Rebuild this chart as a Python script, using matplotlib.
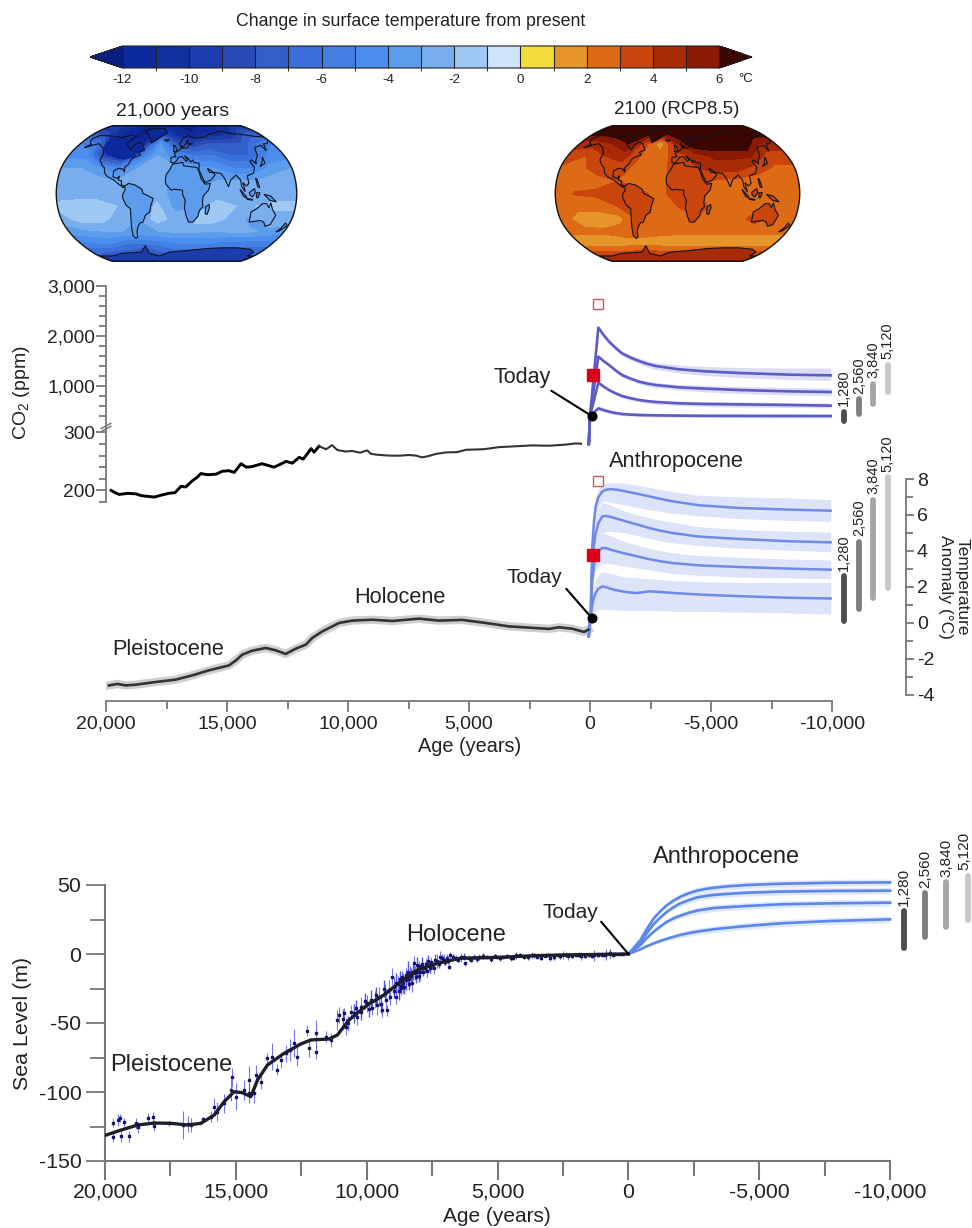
import numpy as np
import matplotlib
matplotlib.use('Agg')
import matplotlib.pyplot as plt
from matplotlib.cm import ScalarMappable
from matplotlib.colors import BoundaryNorm, ListedColormap
from matplotlib.patches import Polygon

plt.rcParams['font.family'] = ['Liberation Sans', 'DejaVu Sans']
plt.rcParams['axes.unicode_minus'] = False
plt.rcParams['mathtext.default'] = 'regular'

W, H = 972, 1228
TXT = '#222222'
AXC = '#777777'

# colour scale
CB_LEVELS = list(range(-12, 7))
CB_COLORS = ['#0c2a9e', '#12309f', '#1c3cae', '#2a4ab8', '#3360c8', '#3a6ed8', '#4480e4', '#4c8ef0', '#5c9cec',
             '#78aeee', '#a0c8f4', '#d0e4fa', '#f4dc3c', '#e6952a', '#dd6a15', '#c9450c', '#a82a06', '#8a1a04']
CB_UNDER = '#0a1f80'
CB_OVER = '#3b0500'
CB_TICKS = [-12, -10, -8, -6, -4, -2, 0, 2, 4, 6]

# map tables, lon -180..180 every 30, lat 90..-90 every 15
MAP_LON = [-180, -150, -120, -90, -60, -30, 0, 30, 60, 90, 120, 150, 180]
MAP_LAT = [90, 75, 60, 45, 30, 15, 0, -15, -30, -45, -60, -75, -90]
LGM_FIELD = [
    [-10, -10, -11, -12, -12, -12, -12, -12, -12, -11, -11, -10, -10],
    [-8, -9, -11, -12, -12, -9, -11, -12, -11, -11, -10, -8, -8],
    [-5, -6, -10, -12, -11, -4, -8, -9, -8, -8, -8, -6, -5],
    [-4.5, -4.5, -9, -11, -6, -3, -5, -6, -6, -7, -7, -5, -4.5],
    [-3, -3, -4, -5, -3, -2.5, -3, -3.5, -4, -5, -5, -3.5, -3],
    [-2.5, -2.5, -2.5, -3, -2.5, -2.5, -3.5, -3.5, -3, -3, -3, -2.5, -2.5],
    [-2.5, -2.5, -2.5, -2.5, -2.5, -2.5, -3.5, -3, -2.5, -2.5, -2.5, -2.5, -2.5],
    [-1.7, -1.5, -1.5, -2, -3.5, -1.7, -3.5, -3, -1.5, -2, -2, -1.7, -1.7],
    [-2.5, -1.5, -1.5, -2.5, -3, -1.5, -2.5, -1.5, -1.5, -2.5, -3.5, -2.5, -2.5],
    [-3.5, -3.2, -3, -3, -3.2, -3, -2.8, -2.8, -3, -2.8, -2.8, -3.2, -3.5],
    [-5.5, -5, -5, -6, -6, -5.5, -5, -5, -5, -5.5, -5.5, -5.5, -5.5],
    [-7, -7.5, -8, -8, -9, -7.5, -7, -7, -7, -7, -7, -7, -7],
    [-9, -9, -9, -9, -9, -9, -9, -9, -9, -9, -9, -9, -9],
]
RCP_FIELD = [
    [7, 7, 7, 7, 7, 7, 7, 7, 7, 7, 7, 7, 7],
    [6.5, 6.5, 7, 7, 6.5, 6, 7, 7, 7, 7, 7, 7, 6.5],
    [4.5, 4.5, 5, 6, 3.5, 1.2, 5, 7, 7, 7, 7, 5, 4.5],
    [3.5, 3, 4, 4.5, 3, 2.5, 3.5, 4.5, 5.2, 5.2, 5.2, 3.5, 3.5],
    [2.8, 2.7, 3.5, 3.5, 2.6, 2.5, 3.5, 4, 4.5, 4.5, 3.5, 2.8, 2.8],
    [2.5, 2.5, 2.6, 3, 2.5, 2.5, 3.5, 3.5, 2.8, 2.6, 2.5, 2.5, 2.5],
    [2.5, 3.1, 3.2, 3.5, 3.5, 2.6, 3.5, 3, 2.5, 2.5, 2.5, 2.5, 2.5],
    [2.5, 2.3, 2.5, 3, 3.6, 2.5, 3, 3.5, 2.5, 2.5, 2.5, 2.5, 2.5],
    [2.5, 1.6, 1.3, 1.6, 3.2, 2.4, 2.5, 3, 2.4, 2.5, 3.5, 2.6, 2.5],
    [2.2, 2.2, 2.2, 2.5, 2.4, 2.3, 2.2, 2.2, 2.2, 2.2, 2.3, 2.2, 2.2],
    [1.5, 1.4, 1.4, 1.5, 1.6, 1.5, 1.5, 1.5, 1.5, 1.5, 1.3, 1.5, 1.5],
    [3.5, 3.4, 3.5, 3.6, 3.7, 3.5, 3.5, 3.5, 3.5, 3.5, 3.5, 3.5, 3.5],
    [4, 4, 4, 4, 4, 4, 4, 4, 4, 4, 4, 4, 4],
]

# rough coastlines as lon, lat
NORTH_AMERICA = [(-168, 66), (-162, 71), (-150, 71), (-128, 70), (-110, 68), (-95, 72), (-85, 69), (-94, 60), (-85, 55),
                 (-80, 52), (-78, 58), (-72, 62), (-64, 60), (-56, 52), (-65, 49), (-60, 46), (-70, 43), (-74, 40),
                 (-76, 35), (-81, 31), (-80, 25), (-83, 29), (-90, 30), (-97, 27), (-97, 20), (-90, 18), (-87, 21),
                 (-88, 16), (-83, 15), (-83, 10), (-78, 9), (-80, 7), (-85, 10), (-95, 16), (-105, 20), (-110, 24),
                 (-113, 31), (-117, 33), (-124, 40), (-124, 48), (-132, 55), (-145, 60), (-155, 58), (-165, 55),
                 (-158, 59), (-165, 62)]
SOUTH_AMERICA = [(-78, 9), (-72, 12), (-62, 10), (-52, 5), (-50, 0), (-44, -2), (-35, -6), (-39, -15), (-41, -22),
                 (-48, -26), (-53, -34), (-58, -35), (-62, -39), (-66, -45), (-68, -52), (-72, -54), (-75, -50),
                 (-73, -40), (-71, -30), (-70, -18), (-76, -14), (-81, -5), (-80, 0), (-77, 4)]
AFRICA = [(-6, 35), (10, 37), (11, 33), (20, 32), (32, 31), (35, 25), (37, 18), (43, 11), (51, 12), (48, 4), (40, -3),
          (39, -10), (40, -16), (35, -20), (33, -27), (26, -34), (19, -34), (15, -27), (12, -17), (13, -8), (9, -1),
          (9, 4), (-4, 5), (-8, 4), (-16, 11), (-17, 15), (-16, 22), (-10, 29)]
EURASIA = [(-9, 37), (-9, 43), (-1, 44), (-4, 48), (3, 51), (8, 54), (8, 57), (11, 54), (20, 55), (24, 59), (30, 60),
           (22, 60), (22, 65), (18, 60), (12, 56), (5, 59), (14, 68), (25, 71), (40, 67), (45, 68), (60, 69), (70, 73),
           (90, 76), (105, 78), (115, 74), (140, 73), (160, 70), (180, 69), (180, 65), (170, 60), (163, 60), (156, 51),
           (155, 58), (140, 55), (135, 45), (128, 39), (127, 35), (122, 40), (118, 38), (122, 31), (118, 24), (108, 21),
           (109, 12), (105, 9), (100, 13), (103, 2), (98, 8), (97, 16), (91, 22), (82, 16), (78, 8), (73, 18), (68, 24),
           (57, 25), (52, 28), (48, 30), (51, 25), (56, 25), (59, 22), (52, 16), (43, 13), (39, 20), (35, 28), (36, 36),
           (28, 37), (26, 40), (23, 37), (20, 41), (13, 45), (18, 40), (16, 38), (9, 44), (3, 43), (0, 39), (-5, 36)]
AUSTRALIA = [(114, -22), (122, -18), (130, -12), (136, -12), (140, -17), (142, -11), (146, -19), (153, -26), (150, -37),
             (143, -39), (138, -34), (131, -32), (124, -33), (115, -34)]
GREENLAND = [(-70, 78), (-55, 82), (-30, 83), (-20, 75), (-40, 65), (-48, 61), (-55, 69)]
ANTARCTICA = [(-180, -78), (-150, -78), (-120, -74), (-100, -73), (-75, -72), (-60, -63), (-60, -74), (-40, -78),
              (-15, -72), (20, -70), (60, -67), (90, -66), (120, -66), (150, -68), (165, -72), (165, -78), (180, -78),
              (180, -90), (-180, -90)]
ISLANDS = [
    [(44, -16), (49, -13), (50, -17), (47, -25), (44, -24)],
    [(-5, 50), (1, 51), (-2, 57), (-6, 58), (-4, 54)],
    [(131, 32), (136, 34), (141, 36), (142, 43), (140, 41), (136, 36)],
    [(95, 5), (104, -3), (106, -6), (100, -3)],
    [(106, -6), (114, -7), (114, -8), (106, -7)],
    [(109, 1), (117, 6), (118, 1), (114, -4), (110, -2)],
    [(120, 1), (125, 1), (122, -5), (120, -5)],
    [(131, -1), (141, -3), (150, -10), (140, -8)],
    [(120, 18), (122, 17), (125, 7), (122, 8)],
    [(173, -35), (178, -38), (172, -44), (167, -46), (171, -41)],
    [(-24, 65), (-14, 65), (-18, 63)],
]
# land shade per continent: N America, S America, Africa, Eurasia, Australia, Greenland, Antarctica, islands
LGM_LAND = [None, -3.5, -3.5, None, -2.5, -11.5, -9.5, -3.5]
RCP_LAND = [None, 3.6, 3.6, None, 3.6, 6.5, 4, 3.5]
# ice sheet over north america at the glacial maximum
LGM_ICE = [(-135, 68), (-110, 68), (-95, 70), (-85, 69), (-94, 60), (-85, 55), (-80, 52), (-78, 58), (-72, 62),
           (-64, 60), (-56, 52), (-65, 49), (-70, 43), (-85, 40), (-100, 42), (-122, 48), (-132, 56)]
LGM_ICE_SHADE = -11.5

# robinson tables
ROB_LAT = [0, 5, 10, 15, 20, 25, 30, 35, 40, 45, 50, 55, 60, 65, 70, 75, 80, 85, 90]
ROB_LEN = [1, .9986, .9954, .99, .9822, .973, .96, .9427, .9216, .8962, .8679, .835, .7986, .7597, .7186, .6732, .6213,
           .5722, .5322]
ROB_DFE = [0, .062, .124, .186, .248, .31, .372, .434, .4958, .5571, .6176, .6769, .7346, .7903, .8435, .8936, .9394,
           .9761, 1]

# CO2 record
CO2_AGE = [19790, 19620, 19460, 19100, 18760, 18550, 18350, 18000, 17700, 17400, 17150, 16900, 16700, 16450, 16250,
           16080, 15800, 15450, 15200, 14920, 14700, 14420, 14200, 13970, 13550, 13300, 13060, 12800, 12560, 12300,
           12020, 11850, 11700, 11530, 11400, 11200, 10900, 10660, 10450, 10370, 10100, 9830, 9500, 9210, 9050, 8800,
           8300, 7890, 7500, 7190, 6950, 6730, 6350, 5950, 5500, 5120, 4400, 3760, 3100, 2400, 1700, 990, 600, 370]
CO2_PPM = [200, 196, 193, 195, 194, 191, 190, 188.5, 192, 195, 196, 207, 206, 216, 222, 229, 227, 228, 233, 234, 231,
           246, 240, 241, 246, 243, 240, 245, 250, 247, 257, 254, 262, 272, 266, 276, 271, 278, 270, 269, 267, 268,
           265, 269, 263, 261.5, 260, 259.8, 261, 260, 257, 258.6, 263, 265.5, 266, 270, 271, 274.6, 276, 277.6,
           277, 279, 281, 280.5]

# CO2 projections
CO2_PROJ_YEARS = [50, 0, -345, -560, -785, -1050, -1320, -1660, -2025, -2350, -2715, -3680, -4780, -6160, -8220, -9950]
CO2_5120 = [280, 400, 2167, 2020, 1887, 1765, 1653, 1570, 1500, 1445, 1400, 1333, 1293, 1260, 1227, 1213]
CO2_3840 = [280, 400, 1587, 1500, 1420, 1315, 1220, 1150, 1087, 1050, 1020, 973, 947, 920, 893, 880]
CO2_2560 = [280, 400, 1067, 990, 920, 855, 800, 757, 720, 698, 680, 653, 640, 633, 620, 607]
CO2_1280 = [280, 400, 553, 518, 487, 460, 440, 428, 420, 416, 413, 407, 403, 402, 400, 400]
CO2_5120_HI = [280, 400, 2190, 2055, 1930, 1810, 1700, 1625, 1560, 1510, 1470, 1420, 1390, 1370, 1360, 1360]
CO2_5120_LO = [280, 400, 2140, 1990, 1850, 1725, 1610, 1520, 1440, 1380, 1330, 1260, 1210, 1170, 1130, 1110]
CO2_3840_HI = [280, 400, 1610, 1530, 1450, 1350, 1260, 1190, 1130, 1095, 1070, 1030, 1010, 990, 970, 960]
CO2_3840_LO = [280, 400, 1560, 1475, 1390, 1280, 1180, 1105, 1040, 1000, 970, 920, 880, 850, 820, 810]
CO2_2560_HI = [280, 400, 1090, 1020, 950, 890, 840, 798, 760, 738, 720, 700, 690, 680, 670, 660]
CO2_2560_LO = [280, 400, 1040, 965, 890, 820, 760, 718, 680, 658, 640, 610, 590, 580, 570, 560]
CO2_1280_HI = [280, 400, 600, 565, 530, 503, 480, 468, 460, 455, 450, 450, 445, 445, 445, 440]
CO2_1280_LO = [280, 400, 510, 480, 450, 428, 410, 398, 390, 385, 380, 375, 370, 365, 360, 360]

# temperature record
TEMP_AGE = [19876, 19530, 19185, 18773, 17946, 17120, 16430, 15744, 14917, 14640, 14368, 13954, 13400, 12988, 12574,
            12161, 11748, 11475, 11062, 10785, 10372, 9822, 8996, 8170, 7066, 6240, 5277, 4310, 3347, 2521, 1694, 1281,
            731, 248, 70]
TEMP_VAL = [-3.47, -3.39, -3.47, -3.43, -3.28, -3.15, -2.91, -2.63, -2.36, -2.09, -1.76, -1.54, -1.39, -1.52, -1.72,
            -1.43, -1.21, -0.83, -0.47, -0.28, 0.0, 0.13, 0.18, 0.11, 0.24, 0.13, 0.17, 0, -0.19, -0.26, -0.33, -0.24,
            -0.32, -0.5, -0.37]

# temperature projections
TEMP_PROJ_YEARS = [50, -27, -96, -160, -234, -350, -510, -680, -853, -1150, -1474, -1950, -2438, -2900, -3402, -4504,
                   -6157, -8223, -9945]
TEMP_5120 = [-0.74, .55, 4.26, 5.6, 6.48, 7.0, 7.31, 7.41, 7.44, 7.4, 7.31, 7.18, 7.04, 6.9, 6.76, 6.54, 6.39, 6.3, 6.24]
TEMP_3840 = [-0.74, .5, 3.4, 4.3, 4.98, 5.55, 5.92, 5.95, 5.89, 5.78, 5.65, 5.47, 5.28, 5.13, 5.0, 4.8, 4.67, 4.54, 4.48]
TEMP_2560 = [-0.74, .45, 2.4, 3.1, 3.7, 4.0, 4.17, 4.15, 4.07, 3.96, 3.85, 3.7, 3.55, 3.43, 3.33, 3.2, 3.11, 3.02, 2.96]
TEMP_1280 = [-0.74, .35, 1.02, 1.4, 1.66, 1.9, 2.03, 1.98, 1.9, 1.8, 1.72, 1.66, 1.76, 1.72, 1.67, 1.58, 1.49, 1.4, 1.36]
TEMP_5120_HI = [-.7, .9, 4.8, 6.2, 7.0, 7.45, 7.7, 7.78, 7.8, 7.79, 7.75, 7.65, 7.55, 7.42, 7.3, 7.1, 7, 6.95, 6.85]
TEMP_5120_LO = [-.8, .3, 3.6, 5.0, 5.9, 6.5, 6.75, 6.75, 6.7, 6.62, 6.55, 6.42, 6.3, 6.2, 6.1, 5.95, 5.8, 5.7, 5.65]
TEMP_3840_HI = [-.7, .8, 3.9, 5.1, 5.9, 6.4, 6.7, 6.65, 6.55, 6.38, 6.2, 6.02, 5.85, 5.72, 5.6, 5.35, 5.2, 5.1, 5.05]
TEMP_3840_LO = [-.8, .3, 2.9, 3.7, 4.3, 4.75, 5, 5.07, 5.1, 5.05, 5, 4.85, 4.7, 4.57, 4.45, 4.3, 4.15, 4.05, 3.95]
TEMP_2560_HI = [-.7, .7, 2.9, 3.8, 4.4, 4.8, 5, 4.93, 4.85, 4.68, 4.5, 4.32, 4.15, 4.02, 3.9, 3.75, 3.65, 3.55, 3.5]
TEMP_2560_LO = [-.8, .2, 1.9, 2.5, 2.9, 3.15, 3.3, 3.3, 3.3, 3.22, 3.15, 3.05, 2.95, 2.85, 2.75, 2.65, 2.55, 2.5, 2.45]
TEMP_1280_HI = [-.7, .55, 1.5, 2, 2.4, 2.7, 2.85, 2.8, 2.75, 2.65, 2.55, 2.5, 2.45, 2.4, 2.35, 2.3, 2.25, 2.25, 2.25]
TEMP_1280_LO = [-.8, .1, .5, .62, .7, .73, .75, .75, .75, .72, .7, .7, .7, .68, .65, .65, .6, .55, .5]

# range bars
RANGE_LABELS = ['1,280', '2,560', '3,840', '5,120']
RANGE_COLORS = ['#4d4d4d', '#808080', '#a6a6a6', '#c8c8c8']
RANGE_YEARS = [-10500, -11115, -11700, -12300]
CO2_RANGE_HI = [486, 734, 1040, 1420]
CO2_RANGE_LO = [306, 434, 634, 886]
TEMP_RANGE_HI = [2.6, 4.5, 6.85, 8.1]
TEMP_RANGE_LO = [0.1, 0.75, 1.4, 1.95]
SEA_RANGE_YEARS = [-10534, -11336, -12149, -12966]
SEA_RANGE_HI = [31, 44, 52, 56.5]
SEA_RANGE_LO = [4.3, 12.5, 19.3, 25]

# sea level
SEA_AGE = [19962, 19389, 18752, 18118, 17481, 16845, 16336, 15828, 15447, 15064, 14744, 14427, 14172, 13790, 13157,
           12519, 12137, 11438, 11119, 10676, 9973, 9339, 8702, 8065, 7302, 6412, 4885, 3600, 2500, 0]
SEA_VAL = [-131.2, -127.6, -123.9, -122.5, -122.7, -123.9, -122.7, -116.7, -107, -99.8, -100.5, -103.4, -91.3, -80.4,
           -72, -65.2, -62.3, -61.6, -58.7, -47.8, -36.9, -29.7, -20, -11.6, -6.7, -3.1, -2.4, -1.2, -0.7, 0]
SEA_OBS_AGE = [19709, 19709, 19518, 19416, 19391, 19264, 19073, 18818, 18755, 18373, 18182, 18144, 17546, 17038, 16847,
               16720, 16274, 15956, 15829, 15702, 15448, 15193, 15130, 15002, 14684, 14494, 14494, 14303, 14239, 14048,
               13819, 13603, 13412, 13285, 13094, 12929, 12776, 12649, 12268, 12204, 11949, 11949, 11568, 11377, 11123,
               11059, 10868, 10805, 10614, 10360, 10232, 9978, 9787, 9533, 9406, 9215, 9151, 9024, 8897, 8706, 8515,
               8261, 8197, 8070, 7879, 7624, 7434, 7180, 6861, 6798, 6226, 5907, 5399, 5017,
               4800, 4500, 4300, 4000, 3700, 3500, 3200, 3000, 2700, 2500, 2300, 2000, 1800, 1500, 1300, 1000, 850, 600,
               400, 200, 9700, 9600, 9300, 9250, 9100, 8950, 8800, 8650, 8600, 8400, 8350, 8150, 8000, 7950, 7750, 7700,
               7550, 7300, 7050, 6950, 6600, 6400, 6100, 5700]
SEA_OBS_VAL = [-122.2, -132.3, -120.3, -119.1, -131.9, -121.5, -131.9, -122.7, -125.6, -119.1, -118.3, -124.6, -122.7,
               -123.9, -123.2, -123.9, -119.8, -117.8, -110.6, -114.2, -108.2, -98.5, -89.4, -103.4, -98.5, -100.9,
               -91.3, -100.9, -87.7, -92.5, -75.6, -74.4, -84, -76.8, -72, -69.5, -64.7, -74.4, -55.5, -68.3, -57.5,
               -70.8, -59.9, -62.3, -47.8, -44.2, -43, -52.6, -41.8, -45.4, -38.2, -35.7, -39.4, -30.9, -40.6, -40.6,
               -26, -16.4, -30.9, -24.9, -15.2, -21.2, -6.8, -12.8, -9.2, -8, -10.4, -1.9, -9.2, -0.7, -6.8, -1.9,
               -2.4, -2.4,
               -1.9, -3, -1, -2.2, -0.8, -2, -1.2, -2.6, -1, -0.5, -1.5, -0.6, -1.4, -0.5, -1, -0.4, -0.2, -0.4, -0.2,
               0.1, -33, -37, -28, -33, -31, -24, -22, -17, -21, -18, -14, -14, -9, -13, -7, -12, -6, -5, -4, -3, -3,
               -2.5, -3, -2]
SEA_OBS_ERR = [3, 4, 4, 3, 4, 3, 4, 4, 4, 4, 4, 4, 2, 10, 6, 5, 2, 4, 6, 7, 7, 8, 7, 10, 7, 7, 10, 7, 7, 5, 4, 10, 4, 6,
               6, 8, 10, 7, 4, 6, 10, 5, 4, 5, 7, 6, 4, 6, 5, 6, 7, 6, 5, 7, 5, 4, 7, 6, 5, 5, 5, 6, 5, 4, 4, 4, 4, 4, 2,
               2, 2, 2, 1.5, 1.2,
               1.5, 2, 2.5, 1.2, 2, 1.5, 1, 2.5, 1.5, 3, 2.5, 1.5, 3, 1.5, 4, 1.5, 4, 1.5, 1, 1,
               6, 7, 6, 8, 6, 7, 6, 5, 7, 6, 5, 5, 4, 6, 4, 5, 4, 5, 4, 3, 2, 3, 2, 2]
# the dense part of the cloud, deglaciation and holocene
SEA_DENSE_AGE = [8950, 8880, 8780, 8720, 8680, 8560, 8480, 8420, 8380, 8300, 8230, 8120, 8060, 7990, 7900, 7830, 7780,
                 7660, 7590, 7490, 7380, 7250, 7120, 7010, 6880, 6720, 6520, 6300, 6000, 5800, 5550, 5250, 5100, 4900,
                 4650, 4400, 4150, 3850, 3600, 3350, 3100, 2850, 2600, 2400, 2150, 1900, 1650, 1400, 1150, 900, 700,
                 500, 300, 10900, 10700, 10500, 10400, 10200, 10050, 9900, 9850, 9650, 9450, 9350]
SEA_DENSE_VAL = [-27, -21, -27, -18, -23, -24, -19, -13, -22, -16, -13, -17, -8, -16, -7, -13, -10, -5, -10, -8, -4, -7,
                 -3, -6, -5, -2, -4, -2, -4, -3.5, -1.5, -3.5, -1.5, -3.2, -1.5, -2.8, -1, -2.5, -1, -2.6, -0.8, -2,
                 -1.8, -0.4, -1.6, -0.5, -1.2, -1.2, -0.4, -0.8, 0.4, -0.2, 0.2, -47, -50, -43, -39, -42, -34, -40, -33,
                 -30, -36, -25]
SEA_DENSE_ERR = [5, 7, 6, 6, 5, 5, 7, 8, 4, 6, 6, 4, 6, 4, 5, 3, 4, 4, 4, 3, 4, 3, 3, 2, 2, 2, 2, 2.5, 2, 2, 2, 2, 1.5, 2,
                 1.5, 1.5, 1.5, 1.5, 2, 1.5, 1.5, 2, 2, 2, 1.5, 2, 2, 1.5, 2, 1.5, 3, 1.5, 1, 7, 5, 7, 6, 6, 6, 6, 7, 6,
                 7, 6]

SEA_PROJ_YEARS = [0, -230, -458, -700, -967, -1220, -1476, -1730, -1985, -2300, -2621, -2940, -3257, -3900, -4530,
                  -5802, -7710, -10000]
SEA_5120 = [0, 5, 10.1, 18, 25.8, 31, 35.5, 38.8, 41.5, 44, 45.9, 47.1, 48, 49.2, 50, 50.9, 51.6, 51.9]
SEA_3840 = [0, 4.2, 8.5, 15, 21.7, 26.5, 30.7, 34, 36.7, 39, 41, 42, 42.8, 43.7, 44.4, 45.2, 45.7, 45.9]
SEA_2560 = [0, 3.2, 6.5, 11.5, 16.2, 20, 23.4, 25.9, 27.8, 29.8, 31.4, 32.4, 33.3, 34.1, 34.8, 36, 36.7, 37.2]
SEA_1280 = [0, 1.7, 3.4, 5.6, 7.7, 9.5, 11.1, 12.5, 13.8, 15.1, 16.2, 17.1, 17.9, 19.2, 20.3, 22.2, 23.9, 25.1]
SEA_BAND = [0, .3, .5, .8, 1, 1.3, 1.5, 1.8, 2, 2.2, 2.5, 2.5, 2.5, 2.5, 2.5, 2.5, 2.5, 2.5]

AGE_MAJOR = [20000, 15000, 10000, 5000, 0, -5000, -10000]
AGE_MINOR = [17500, 12500, 7500, 2500, -2500, -7500]


def ax_px(left, top, right, bottom):
    return fig.add_axes([left / W, 1 - bottom / H, (right - left) / W, (bottom - top) / H])


def project(lon, lat):
    lon = np.asarray(lon, dtype=float)
    lat = np.asarray(lat, dtype=float)
    x = lon / 180 * np.interp(np.abs(lat), ROB_LAT, ROB_LEN)
    y = np.sign(lat) * np.interp(np.abs(lat), ROB_LAT, ROB_DFE)
    return x, y


def draw_map(ax, field, land, extra=None):
    lon, lat = np.meshgrid(MAP_LON, MAP_LAT)
    X, Y = project(lon, lat)
    lats = np.linspace(-90, 90, 37)
    xo = np.concatenate([project(180, lats)[0], project(-180, lats[::-1])[0]])
    yo = np.concatenate([project(180, lats)[1], project(-180, lats[::-1])[1]])
    outline = Polygon(np.c_[xo, yo], closed=True, fc='none', ec='#111111', lw=1.0, zorder=5)
    ax.add_patch(outline)
    cs = ax.contourf(X, Y, np.array(field), levels=CB_LEVELS, cmap=cmap, norm=norm, extend='both')
    cs.set_clip_path(outline)
    if extra is not None:
        px, py = project([p[0] for p in extra[0]], [p[1] for p in extra[0]])
        ax.add_patch(Polygon(np.c_[px, py], closed=True, fc=cmap(norm(extra[1])), ec='none', zorder=2))
    shapes = [NORTH_AMERICA, SOUTH_AMERICA, AFRICA, EURASIA, AUSTRALIA, GREENLAND, ANTARCTICA]
    shades = land[:7] + [land[7]] * len(ISLANDS)
    for pts, shade in zip(shapes + ISLANDS, shades):
        px, py = project([p[0] for p in pts], [p[1] for p in pts])
        fc = 'none' if shade is None else cmap(norm(shade))
        p = Polygon(np.c_[px, py], closed=True, fc=fc, ec='#10131f', lw=0.8, zorder=3)
        ax.add_patch(p)
        p.set_clip_path(outline)
    ax.set_xlim(-1.01, 1.01)
    ax.set_ylim(-1.01, 1.01)
    ax.axis('off')


def style_age_axis(ax, size, major_len, minor_len, width, pad):
    ax.set_xticks(AGE_MAJOR)
    ax.set_xticklabels(['{:,}'.format(a) for a in AGE_MAJOR])
    ax.set_xticks(AGE_MINOR, minor=True)
    ax.tick_params(axis='x', which='major', length=major_len, width=width, color=AXC, labelsize=size, labelcolor=TXT,
                   pad=pad)
    ax.tick_params(axis='x', which='minor', length=minor_len, width=width, color=AXC)
    ax.spines['bottom'].set_bounds(20000, -10000)
    ax.spines['bottom'].set_color(AXC)
    ax.spines['bottom'].set_linewidth(width)


def range_bars(ax, years, hi, lo, size, gap, last_shift=0):
    for i, (yr, h, l, c, lab) in enumerate(zip(years, hi, lo, RANGE_COLORS, RANGE_LABELS)):
        ax.plot([yr, yr], [l, h], color=c, lw=4.2, solid_capstyle='round', clip_on=False)
        dx = last_shift if i == len(years) - 1 else 0
        ax.annotate(lab, (yr, h), xytext=(dx, gap), textcoords='offset points', rotation=90, ha='center', va='bottom',
                    fontsize=size, color=TXT, annotation_clip=False)


fig = plt.figure(figsize=(W / 100, H / 100), dpi=100, facecolor='white')

cmap = ListedColormap(CB_COLORS).with_extremes(under=CB_UNDER, over=CB_OVER)
norm = BoundaryNorm(CB_LEVELS, cmap.N)

# colour bar, the axes includes the two end triangles
cax = ax_px(90, 46, 752, 68)
cb = fig.colorbar(ScalarMappable(norm=norm, cmap=cmap), cax=cax, orientation='horizontal', extend='both',
                  extendfrac=0.0545, drawedges=True, spacing='uniform', ticks=CB_TICKS)
cb.dividers.set_color('#222222')
cb.dividers.set_linewidth(0.8)
cb.outline.set_edgecolor('#222222')
cb.outline.set_linewidth(0.8)
cax.tick_params(length=0, labelsize=9.5, labelcolor=TXT, pad=4)
cax.xaxis.set_major_formatter(lambda v, pos: '{:d}'.format(int(round(v))))
fig.text(411 / W, 1 - 22 / H, 'Change in surface temperature from present', ha='center', va='center', fontsize=12.75,
         color=TXT)
fig.text(746 / W, 1 - 79 / H, '°C', ha='center', va='center', fontsize=9.5, color=TXT)

# maps
draw_map(ax_px(55, 125, 298, 262), LGM_FIELD, LGM_LAND, extra=(LGM_ICE, LGM_ICE_SHADE))
draw_map(ax_px(554, 125, 801, 262), RCP_FIELD, RCP_LAND)
fig.text(173 / W, 1 - 112 / H, '21,000 years', ha='center', va='center', fontsize=14, color=TXT)
fig.text(677 / W, 1 - 110 / H, '2100 (RCP8.5)', ha='center', va='center', fontsize=13.5, color=TXT)

# temperature panel, below the CO2 axes
tax = ax_px(106, 479, 905.7, 700.7)
tax.set_xlim(20000, -13045)
tax.set_ylim(-4.32, 8)
tax.patch.set_alpha(0)
for side in ['top', 'left']:
    tax.spines[side].set_visible(False)
style_age_axis(tax, 14, 8, 6, 1.3, 3)
tax.yaxis.tick_right()
tax.spines['right'].set_bounds(-4, 8)
tax.spines['right'].set_color(AXC)
tax.spines['right'].set_linewidth(1.3)
tax.set_yticks([-4, -2, 0, 2, 4, 6, 8])
tax.set_yticks([-3, -1, 1, 3, 5, 7], minor=True)
tax.tick_params(axis='y', which='major', length=6, width=1.3, color=AXC, labelsize=14, labelcolor=TXT, pad=2)
tax.tick_params(axis='y', which='minor', length=5, width=1.3, color=AXC)

for hi, lo in [(TEMP_5120_HI, TEMP_5120_LO), (TEMP_3840_HI, TEMP_3840_LO), (TEMP_2560_HI, TEMP_2560_LO),
               (TEMP_1280_HI, TEMP_1280_LO)]:
    tax.fill_between(TEMP_PROJ_YEARS, lo, hi, color='#dde4f9', lw=0, clip_on=False, zorder=1)
for vals in [TEMP_5120, TEMP_3840, TEMP_2560, TEMP_1280]:
    tax.plot(TEMP_PROJ_YEARS, vals, color='#6f8ae6', lw=1.8, zorder=3, clip_on=False, solid_joinstyle='round')
tax.plot(TEMP_AGE, TEMP_VAL, color='#c4c4c4', lw=6, alpha=0.8, zorder=2)
tax.plot(TEMP_AGE, TEMP_VAL, color='#333333', lw=1.9, zorder=3)
range_bars(tax, RANGE_YEARS, TEMP_RANGE_HI, TEMP_RANGE_LO, 10.5, 4)
tax.plot([-345], [7.9], 's', ms=7.5, mfc='white', mec='#c85a5a', mew=1, clip_on=False, zorder=5)
tax.plot([-130], [3.8], 's', ms=8, color='#d9001b', zorder=5)
tax.annotate('', xy=(-70, 0.28), xytext=(980, 1.9), arrowprops=dict(arrowstyle='-', color='black', lw=1.5,
                                                                  shrinkA=0, shrinkB=0), zorder=4)
tax.plot([-70], [0.28], 'o', ms=6.2, color='black', zorder=6)
tax.text(2300, 2.53, 'Today', ha='center', va='center', fontsize=15, color=TXT)
tax.text(-785, 8.96, 'Anthropocene', ha='left', va='center', fontsize=15.7, color=TXT, clip_on=False)
tax.text(9750, 1.4, 'Holocene', ha='left', va='center', fontsize=15.7, color=TXT)
tax.text(19750, -1.48, 'Pleistocene', ha='left', va='center', fontsize=15.7, color=TXT)
fig.text(470 / W, 1 - 746 / H, 'Age (years)', ha='center', va='center', fontsize=14.3, color=TXT)
fig.text(962.5 / W, 1 - 587 / H, 'Temperature', ha='center', va='center', rotation=270, fontsize=12.5, color=TXT)
fig.text(945 / W, 1 - 587 / H, 'Anomaly (°C)', ha='center', va='center', rotation=270, fontsize=12.5, color=TXT)


# CO2 panel: the axis is broken above 300 ppm
def co2_forward(v):
    v = np.asarray(v, dtype=float)
    return np.where(v <= 300, (v - 180) * 0.58, 116 + (v - 1000) * 0.05)


def co2_inverse(p):
    p = np.asarray(p, dtype=float)
    return np.where(p <= 69.6, p / 0.58 + 180, (p - 116) / 0.05 + 1000)


cax2 = ax_px(106, 286, 905.7, 502)
cax2.set_xlim(20000, -13045)
cax2.set_yscale('function', functions=(co2_forward, co2_inverse))
cax2.set_ylim(180, 3000)
cax2.patch.set_alpha(0)
for side in ['top', 'right', 'bottom']:
    cax2.spines[side].set_visible(False)
cax2.spines['left'].set_color(AXC)
cax2.spines['left'].set_linewidth(1.3)
cax2.xaxis.set_visible(False)
cax2.set_yticks([200, 300, 1000, 2000, 3000])
cax2.set_yticklabels(['200', '300', '1,000', '2,000', '3,000'])
cax2.set_yticks([180, 220, 240, 260, 280, 400, 600, 800, 1200, 1400, 1600, 1800, 2200, 2400, 2600, 2800], minor=True)
cax2.tick_params(axis='y', which='major', length=7, width=1.3, color=AXC, labelsize=13.8, labelcolor=TXT, pad=1)
cax2.tick_params(axis='y', which='minor', length=5, width=1.3, color=AXC)

for hi, lo in [(CO2_5120_HI, CO2_5120_LO), (CO2_3840_HI, CO2_3840_LO), (CO2_2560_HI, CO2_2560_LO),
               (CO2_1280_HI, CO2_1280_LO)]:
    cax2.fill_between(CO2_PROJ_YEARS, lo, hi, color='#dcdcf6', lw=0, zorder=1)
for vals in [CO2_5120, CO2_3840, CO2_2560, CO2_1280]:
    cax2.plot(CO2_PROJ_YEARS, vals, color='#5c5cc4', lw=1.9, zorder=3)
cax2.plot(CO2_AGE[:36], CO2_PPM[:36], color='black', lw=2.1, zorder=3)
cax2.plot(CO2_AGE[35:], CO2_PPM[35:], color='#333333', lw=1.5, zorder=3)
range_bars(cax2, RANGE_YEARS, CO2_RANGE_HI, CO2_RANGE_LO, 10.5, 4)
cax2.plot([-345], [2640], 's', ms=7.5, mfc='white', mec='#c85a5a', mew=1, zorder=5)
cax2.plot([-130], [1213], 's', ms=8, color='#d9001b', zorder=5)
cax2.annotate('', xy=(-70, 400), xytext=(1600, 906), arrowprops=dict(arrowstyle='-', color='black', lw=1.5,
                                                                   shrinkA=0, shrinkB=0), zorder=4)
cax2.plot([-70], [400], 'o', ms=6.2, color='black', zorder=6)
cax2.text(2800, 1160, 'Today', ha='center', va='center', fontsize=15.5, color=TXT)
# axis break marks
for off in [-1.5, 1.5]:
    cax2.plot([-0.006, 0.006], [0.345 + off / 216 - 0.012, 0.345 + off / 216 + 0.012], transform=cax2.transAxes,
              color=AXC, lw=1.1, clip_on=False, zorder=6)
fig.text(22 / W, 1 - 393 / H, 'CO$_2$ (ppm)', ha='center', va='center', rotation=90, fontsize=14, color=TXT)

# sea level panel
sax = ax_px(105, 885, 972, 1161)
sax.set_xlim(19962, -13130)
sax.set_ylim(-150, 50)
sax.patch.set_alpha(0)
for side in ['top', 'right']:
    sax.spines[side].set_visible(False)
style_age_axis(sax, 15.3, 14, 10.5, 1.5, 1.5)
sax.spines['left'].set_color(AXC)
sax.spines['left'].set_linewidth(1.5)
sax.set_yticks([-150, -100, -50, 0, 50])
sax.set_yticks([-125, -75, -25, 25], minor=True)
sax.tick_params(axis='y', which='major', length=14, width=1.3, color=AXC, labelsize=15.3, labelcolor=TXT, pad=3)
sax.tick_params(axis='y', which='minor', length=10.5, width=1.3, color=AXC)

for vals in [SEA_5120, SEA_3840, SEA_2560, SEA_1280]:
    sax.fill_between(SEA_PROJ_YEARS, np.array(vals) - np.array(SEA_BAND), np.array(vals) + np.array(SEA_BAND),
                     color='#dfe8fc', lw=0, zorder=1, clip_on=False)
    sax.plot(SEA_PROJ_YEARS, vals, color='#5a86ee', lw=1.9, zorder=3, clip_on=False)
sax.errorbar(SEA_OBS_AGE, SEA_OBS_VAL, yerr=SEA_OBS_ERR, fmt='none', ecolor='#4a4ae6', elinewidth=0.8, alpha=0.75,
             zorder=2)
sax.errorbar(SEA_DENSE_AGE, SEA_DENSE_VAL, yerr=SEA_DENSE_ERR, fmt='none', ecolor='#2a2ae0', elinewidth=1.0, alpha=0.8,
             zorder=2)
sax.plot(SEA_OBS_AGE, SEA_OBS_VAL, 's', ms=2.0, color='#14146e', zorder=2.5)
sax.plot(SEA_DENSE_AGE, SEA_DENSE_VAL, 's', ms=2.0, color='#14146e', zorder=2.5)
sax.plot(SEA_AGE, SEA_VAL, color='#1e1e2a', lw=2.4, zorder=4, solid_joinstyle='round')
range_bars(sax, SEA_RANGE_YEARS, SEA_RANGE_HI, SEA_RANGE_LO, 11, 4, last_shift=-2.5)
sax.annotate('', xy=(0, 0), xytext=(1042, 23.4), arrowprops=dict(arrowstyle='-', color='black', lw=1.5,
                                                               shrinkA=0, shrinkB=0), zorder=5)
sax.text(2214, 30.4, 'Today', ha='center', va='center', fontsize=15, color=TXT)
sax.text(-954, 70.3, 'Anthropocene', ha='left', va='center', fontsize=17, color=TXT, clip_on=False)
sax.text(8511, 13.8, 'Holocene', ha='left', va='center', fontsize=17, color=TXT)
sax.text(19809, -80.4, 'Pleistocene', ha='left', va='center', fontsize=17, color=TXT)
fig.text(497 / W, 1 - 1217 / H, 'Age (years)', ha='center', va='center', fontsize=15, color=TXT)
fig.text(22 / W, 1 - 1023 / H, 'Sea Level (m)', ha='center', va='center', rotation=90, fontsize=15.4, color=TXT)

fig.savefig('out.png', dpi=100)
